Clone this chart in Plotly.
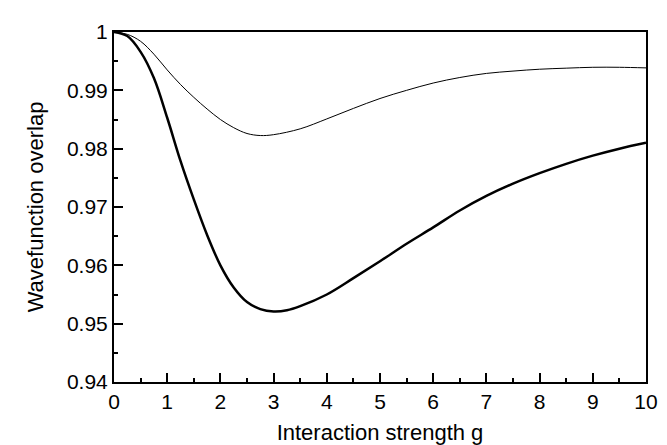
import plotly.graph_objects as go

g_thin = [0, 0.25, 0.5, 0.75, 1.0, 1.25, 1.5, 1.75, 2.0, 2.25, 2.5, 2.75, 3.0, 3.5, 4.0, 4.5, 5.0, 5.5, 6.0, 6.5, 7.0, 7.5, 8.0, 8.5, 9.0, 9.5, 10.0]
ov_thin = [1.0, 0.9996, 0.9984, 0.9962, 0.9935, 0.9910, 0.9888, 0.9868, 0.9850, 0.9836, 0.9826, 0.98225, 0.9824, 0.9834, 0.9851, 0.9869, 0.9886, 0.9900, 0.99125, 0.9922, 0.99290, 0.9933, 0.99362, 0.9938, 0.99395, 0.99395, 0.99385]

g_thick = [0, 0.25, 0.5, 0.75, 1.0, 1.25, 1.5, 1.75, 2.0, 2.25, 2.5, 2.75, 3.0, 3.25, 3.5, 4.0, 4.5, 5.0, 5.5, 6.0, 6.5, 7.0, 7.5, 8.0, 8.5, 9.0, 9.5, 10.0]
ov_thick = [1.0, 0.9993, 0.9966, 0.9921, 0.9853, 0.9779, 0.9713, 0.9652, 0.9600, 0.9562, 0.9537, 0.9525, 0.9521, 0.9523, 0.9530, 0.9550, 0.9578, 0.9607, 0.9637, 0.9665, 0.9694, 0.9719, 0.9740, 0.9758, 0.9774, 0.9788, 0.9800, 0.9810]

x_ticks = [0, 1, 2, 3, 4, 5, 6, 7, 8, 9, 10]
y_ticks = [0.94, 0.95, 0.96, 0.97, 0.98, 0.99, 1.0]
y_tick_text = ["0.94", "0.95", "0.96", "0.97", "0.98", "0.99", "1"]

fig = go.Figure()
fig.add_trace(go.Scatter(x=g_thin, y=ov_thin, mode="lines",
                         line=dict(color="black", width=1, shape="spline", smoothing=1.0),
                         showlegend=False))
fig.add_trace(go.Scatter(x=g_thick, y=ov_thick, mode="lines",
                         line=dict(color="black", width=2.5, shape="spline", smoothing=1.0),
                         showlegend=False))

font = dict(family="Liberation Sans, Arial, sans-serif", color="black")

fig.update_layout(
    width=667, height=445,
    margin=dict(l=106, r=29, t=22, b=69),
    paper_bgcolor="white", plot_bgcolor="white",
    font=dict(family="Liberation Sans, Arial, sans-serif", color="black", size=21),
    xaxis=dict(
        range=[0, 10], tickvals=x_ticks, ticks="inside", ticklen=9, tickwidth=2,
        tickcolor="black", showline=True, linecolor="black", linewidth=2, mirror=True,
        showgrid=False, zeroline=False,
        tickfont=dict(size=21, **font),
        minor=dict(ticks="inside", ticklen=4, tickwidth=2, tickcolor="black", dtick=0.5, showgrid=False),
        title=dict(text="Interaction strength g", font=dict(size=22, **font), standoff=12),
    ),
    yaxis=dict(
        range=[0.94, 1.0], tickvals=y_ticks, ticktext=y_tick_text, ticks="inside", ticklen=9,
        tickwidth=2, tickcolor="black", showline=True, linecolor="black", linewidth=2,
        mirror=True, showgrid=False, zeroline=False,
        tickfont=dict(size=21, **font),
        minor=dict(ticks="inside", ticklen=4, tickwidth=2, tickcolor="black", dtick=0.005, showgrid=False),
        title=dict(text="Wavefunction overlap", font=dict(size=22, **font), standoff=17),
    ),
)

fig.write_html("out.html")
